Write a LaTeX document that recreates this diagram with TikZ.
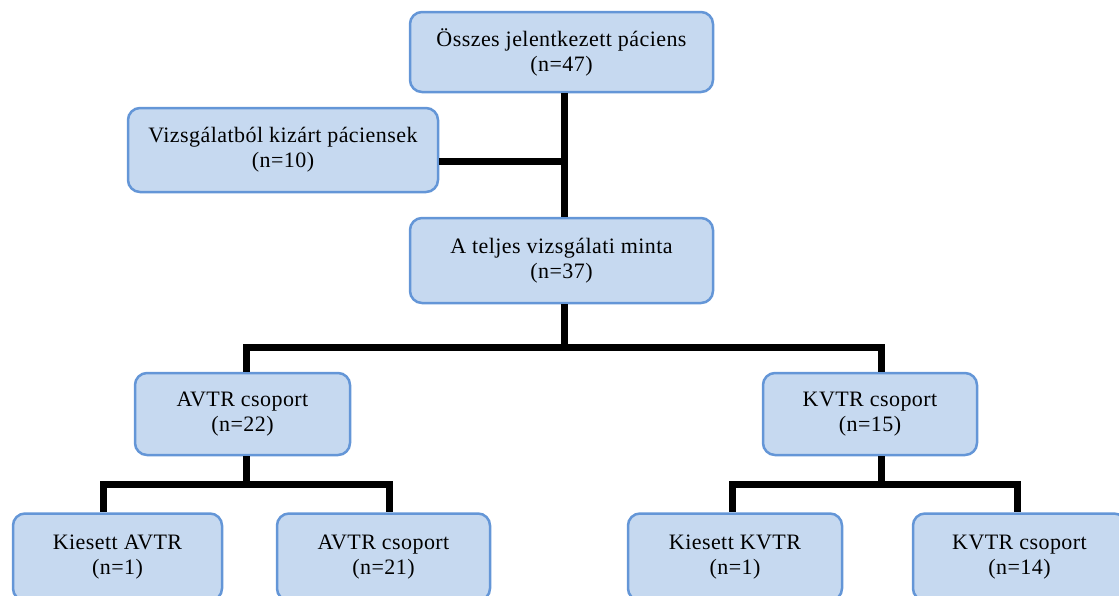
\documentclass[tikz,border=0pt]{standalone}
\usepackage{fontspec}
\setmainfont[LetterSpace=2]{Liberation Serif}
\definecolor{boxfill}{RGB}{198,217,240}
\definecolor{boxline}{RGB}{100,150,215}
\begin{document}
\begin{tikzpicture}[x=1pt,y=-1pt,
  box/.style={draw=boxline, line width=2.5pt, fill=boxfill, rounded corners=12pt,
    align=center, inner sep=0pt, font=\fontsize{22}{25}\selectfont},
  conn/.style={line width=7pt, black, line cap=butt, line join=miter}]
\useasboundingbox (0,0) rectangle (1119,595);
\clip (0,0) rectangle (1119,595);
\node[box, minimum width=303pt, minimum height=80pt] (top) at (561.5,52) {Összes jelentkezett páciens\\(n=47)};
\node[box, minimum width=310pt, minimum height=84pt] (excl) at (283,150) {Vizsgálatból kizárt páciensek\\(n=10)};
\node[box, minimum width=303pt, minimum height=85pt] (mid) at (561.5,260.5) {A teljes vizsgálati minta\\(n=37)};
\node[box, minimum width=215pt, minimum height=82pt] (avtr) at (242.5,414) {AVTR csoport\\(n=22)};
\node[box, minimum width=214pt, minimum height=82pt] (kvtr) at (870,414) {KVTR csoport\\(n=15)};
\node[box, minimum width=209pt, minimum height=87pt] (kavtr) at (117.5,557) {Kiesett AVTR\\(n=1)};
\node[box, minimum width=213pt, minimum height=87pt] (avtr21) at (383.5,557) {AVTR csoport\\(n=21)};
\node[box, minimum width=214pt, minimum height=87pt] (kkvtr) at (735,557) {Kiesett KVTR\\(n=1)};
\node[box, minimum width=213pt, minimum height=87pt] (kvtr14) at (1019.5,557) {KVTR csoport\\(n=14)};
\coordinate (s1) at (564,347);
\coordinate (s2) at (246,484);
\coordinate (s3) at (881,484);
\draw[conn] ([xshift=2.5pt]top.south) -- ([xshift=2.5pt]mid.north);
\draw[conn] ([yshift=-11pt]excl.east) -- ++(126,0);
\draw[conn] (mid.south -| s1) -- (s1);
\draw[conn] (s1) -| (avtr.north -| s2);
\draw[conn] (s1) -| (kvtr.north -| s3);
\draw[conn] (avtr.south -| s2) -- (s2);
\draw[conn] (s2) -| ([xshift=-14pt]kavtr.north);
\draw[conn] (s2) -| ([xshift=6pt]avtr21.north);
\draw[conn] (kvtr.south -| s3) -- (s3);
\draw[conn] (s3) -| ([xshift=-3pt]kkvtr.north);
\draw[conn] (s3) -| ([xshift=-2pt]kvtr14.north);
\end{tikzpicture}
\end{document}
